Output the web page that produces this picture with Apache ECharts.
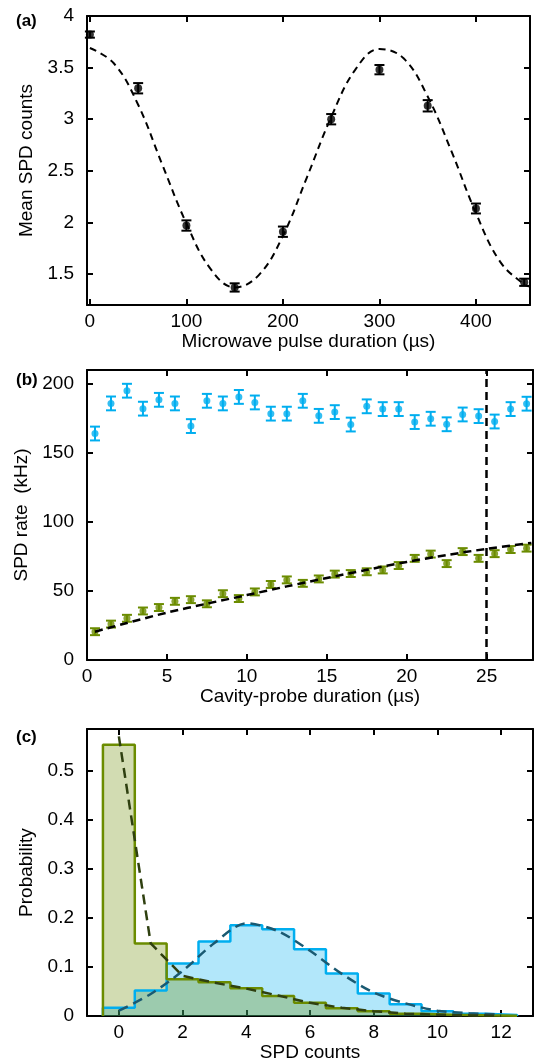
<!DOCTYPE html>
<html>
<head>
<meta charset="utf-8">
<script src="https://cdn.jsdelivr.net/npm/echarts@6/dist/echarts.min.js"></script>
<style>
html, body { margin: 0; padding: 0; background: #fff; }
#chart { width: 536px; height: 1063px; }
</style>
</head>
<body>
<div id="chart"></div>
<script>
// (a) microwave pulse scan
const aPulse = [0, 50, 100, 150, 200, 250, 300, 350, 400, 450];
const aCounts = [3.82, 3.30, 1.97, 1.37, 1.91, 3.00, 3.48, 3.13, 2.135, 1.42];
const aErr = [0.03, 0.05, 0.05, 0.04, 0.05, 0.05, 0.045, 0.055, 0.048, 0.035];
const aFitX = [0, 25, 50, 75, 100, 125, 150, 175, 200, 225, 250, 275, 300, 325, 350, 375, 400, 425, 450, 456];
const aFitY = [3.69, 3.54, 3.14, 2.56, 1.99, 1.55, 1.37, 1.49, 1.87, 2.44, 3.02, 3.48, 3.68, 3.59, 3.22, 2.68, 2.09, 1.62, 1.40, 1.38];
const aTicksX = [0, 100, 200, 300, 400];
const aTicksY = [1.5, 2, 2.5, 3, 3.5, 4];

// (b) cavity-probe duration scan
const bDur = [0.5, 1.5, 2.5, 3.5, 4.5, 5.5, 6.5, 7.5, 8.5, 9.5, 10.5, 11.5, 12.5, 13.5,
              14.5, 15.5, 16.5, 17.5, 18.5, 19.5, 20.5, 21.5, 22.5, 23.5, 24.5, 25.5, 26.5, 27.5];
const bBright = [164, 185.8, 195, 182, 188.4, 185.8, 169.4, 187.7, 185.8, 190.5, 186.5, 178.4, 178.4, 187.7,
                 176.8, 179.5, 170.5, 183.7, 181.7, 181.7, 172.3, 174.7, 170.7, 177.8, 176.6, 172.7, 181.7, 185.6];
const bBrightErr = [5, 5, 5, 5, 5, 5, 5, 5, 5, 5, 5, 5, 5, 5, 5, 5, 5, 5, 5, 5, 5, 5, 5, 5, 5, 5, 5, 5];
const bDark = [20.5, 26, 30.2, 35.5, 38, 42.5, 43.7, 40.7, 48, 44.5, 49.3, 54.7, 58, 55.5,
               58.7, 62.2, 62.6, 63.9, 65.2, 68.4, 73.6, 76.7, 69.8, 78.5, 73.6, 77, 80, 81];
const bDarkErr = [2.5, 2.5, 2.5, 2.5, 2.5, 2.5, 2.5, 2.5, 2.5, 2.5, 2.5, 2.5, 2.5, 2.5,
                  2.5, 2.5, 2.5, 2.5, 2.5, 2.5, 2.5, 2.5, 2.5, 2.5, 2.5, 2.5, 2.5, 2.5];
const bFitX = [0.5, 2.5, 5, 7.5, 10, 12.5, 15, 17.5, 20, 22.5, 25, 27.8];
const bFitY = [20.5, 26.8, 34.3, 40.8, 47, 53.3, 59.4, 65.3, 71, 76, 80.5, 84.8];
const bCut = 25;
const bTicksX = [0, 5, 10, 15, 20, 25];
const bTicksY = [0, 50, 100, 150, 200];

// (c) SPD count histograms
const cBins = [0, 1, 2, 3, 4, 5, 6, 7, 8, 9, 10, 11, 12];
const cDark = [0.553, 0.148, 0.075, 0.069, 0.057, 0.041, 0.027, 0.016, 0.010, 0.005, 0.003, 0.0015, 0.0008];
const cBright = [0.017, 0.052, 0.107, 0.152, 0.185, 0.177, 0.136, 0.087, 0.046, 0.024, 0.010, 0.005, 0.002];
const cDarkFit = [0.57, 0.148, 0.082, 0.068, 0.056, 0.042, 0.027, 0.017, 0.010, 0.005, 0.003, 0.0015, 0.0007];
const cBrightFit = [0.011, 0.045, 0.092, 0.149, 0.189, 0.173, 0.133, 0.086, 0.048, 0.026, 0.011, 0.006, 0.003];
const cTicksX = [0, 2, 4, 6, 8, 10, 12];
const cTicksY = [0, 0.1, 0.2, 0.3, 0.4, 0.5];

const FONT = 'Liberation Sans, Arial, sans-serif';
const BLUE = '#00aeef';
const GREEN = '#6b8c00';

function pairs(xs, ys) {
  return xs.map((x, i) => [x, ys[i]]);
}

// outline of a histogram with unit-width bins centred on the bin values
function steps(bins, vals) {
  const out = [[bins[0] - 0.5, 0]];
  bins.forEach((b, i) => {
    out.push([b - 0.5, vals[i]]);
    out.push([b + 0.5, vals[i]]);
  });
  out.push([bins[bins.length - 1] + 0.5, 0]);
  return out;
}

function errorBars(xs, ys, errs, color, cap, axis) {
  return {
    type: 'custom',
    xAxisIndex: axis, yAxisIndex: axis,
    data: xs.map((x, i) => [x, ys[i] - errs[i], ys[i] + errs[i]]),
    encode: { x: 0, y: [1, 2] },
    z: 3,
    renderItem: function (params, api) {
      const lo = api.coord([api.value(0), api.value(1)]);
      const hi = api.coord([api.value(0), api.value(2)]);
      const style = { stroke: color, lineWidth: 2 };
      return {
        type: 'group',
        children: [
          { type: 'line', shape: { x1: lo[0], y1: lo[1], x2: hi[0], y2: hi[1] }, style: style },
          { type: 'line', shape: { x1: lo[0] - cap, y1: lo[1], x2: lo[0] + cap, y2: lo[1] }, style: style },
          { type: 'line', shape: { x1: hi[0] - cap, y1: hi[1], x2: hi[0] + cap, y2: hi[1] }, style: style }
        ]
      };
    }
  };
}

const frame = { show: true, onZero: false, lineStyle: { color: '#000', width: 2 } };

function axisPair(dim, grid, min, max, ticks, name, nameGap) {
  const main = {
    type: 'value', gridIndex: grid, min: min, max: max,
    position: dim === 'x' ? 'bottom' : 'left',
    name: name, nameLocation: 'middle', nameGap: nameGap,
    nameTextStyle: { fontSize: 19, color: '#000', fontFamily: FONT },
    axisLine: frame,
    axisTick: { show: true, inside: true, length: 6, customValues: ticks, lineStyle: { color: '#000', width: 2 } },
    axisLabel: { customValues: ticks, fontSize: 19, color: '#000', fontFamily: FONT, margin: dim === 'x' ? 7 : 13 },
    splitLine: { show: false }
  };
  const mirror = {
    type: 'value', gridIndex: grid, min: min, max: max,
    position: dim === 'x' ? 'top' : 'right',
    axisLine: frame,
    axisTick: { show: true, inside: true, length: 6, customValues: ticks, lineStyle: { color: '#000', width: 2 } },
    axisLabel: { show: false },
    splitLine: { show: false }
  };
  return [main, mirror];
}

const chart = echarts.init(document.getElementById('chart'));

const option = {
  animation: false,
  backgroundColor: '#fff',
  title: [
    { text: '(a)', left: 11, top: 8, textStyle: { fontSize: 17, fontWeight: 'bold', color: '#000', fontFamily: FONT } },
    { text: '(b)', left: 11, top: 367, textStyle: { fontSize: 17, fontWeight: 'bold', color: '#000', fontFamily: FONT } },
    { text: '(c)', left: 11, top: 724, textStyle: { fontSize: 17, fontWeight: 'bold', color: '#000', fontFamily: FONT } }
  ],
  grid: [
    { left: 87, width: 443, top: 16, height: 289 },
    { left: 87, width: 446, top: 370, height: 290 },
    { left: 87, width: 446, top: 729, height: 290 }
  ],
  xAxis: [].concat(
    axisPair('x', 0, -3, 456, aTicksX, 'Microwave pulse duration (\u00b5s)', 27),
    axisPair('x', 1, 0, 27.9, bTicksX, 'Cavity-probe duration (\u00b5s)', 27),
    axisPair('x', 2, -1, 13, cTicksX, 'SPD counts', 26)
  ),
  yAxis: [].concat(
    axisPair('y', 0, 1.2, 4, aTicksY, 'Mean SPD counts', 48),
    axisPair('y', 1, 0, 210, bTicksY, 'SPD rate  (kHz)', 50),
    axisPair('y', 2, 0, 0.585, cTicksY, 'Probability', 48)
  ),
  series: [
    // (a)
    {
      type: 'line', xAxisIndex: 0, yAxisIndex: 0,
      data: pairs(aFitX, aFitY), smooth: 0.4, showSymbol: false,
      lineStyle: { color: '#000', width: 2, type: [7, 5] }, z: 2
    },
    errorBars(aPulse, aCounts, aErr, '#000', 5, 0),
    {
      type: 'scatter', xAxisIndex: 0, yAxisIndex: 0,
      data: pairs(aPulse, aCounts), symbolSize: 8,
      itemStyle: { color: '#000' }, z: 4
    },
    // (b)
    errorBars(bDur, bBright, bBrightErr, BLUE, 5, 2),
    {
      type: 'scatter', xAxisIndex: 2, yAxisIndex: 2,
      data: pairs(bDur, bBright), symbolSize: 7,
      itemStyle: { color: BLUE }, z: 4
    },
    errorBars(bDur, bDark, bDarkErr, GREEN, 5, 2),
    {
      type: 'scatter', xAxisIndex: 2, yAxisIndex: 2,
      data: pairs(bDur, bDark), symbolSize: 7,
      itemStyle: { color: GREEN }, z: 4
    },
    {
      type: 'line', xAxisIndex: 2, yAxisIndex: 2,
      data: pairs(bFitX, bFitY), smooth: 0.3, showSymbol: false,
      lineStyle: { color: '#000', width: 2.5, type: [8, 5] }, z: 5,
      markLine: {
        silent: true, symbol: 'none', label: { show: false },
        lineStyle: { color: '#000', width: 2.5, type: [8, 5] },
        data: [{ xAxis: bCut }]
      }
    },
    // (c)
    {
      type: 'line', xAxisIndex: 4, yAxisIndex: 4,
      data: steps(cBins, cBright), showSymbol: false,
      lineStyle: { width: 0 }, areaStyle: { color: 'rgba(0,174,239,0.3)', opacity: 1 }, z: 1
    },
    {
      type: 'line', xAxisIndex: 4, yAxisIndex: 4,
      data: steps(cBins, cDark), showSymbol: false,
      lineStyle: { width: 0 }, areaStyle: { color: 'rgba(107,140,0,0.3)', opacity: 1 }, z: 2
    },
    {
      type: 'line', xAxisIndex: 4, yAxisIndex: 4,
      data: steps(cBins, cBright), showSymbol: false,
      lineStyle: { color: BLUE, width: 2.5 }, z: 3
    },
    {
      type: 'line', xAxisIndex: 4, yAxisIndex: 4,
      data: steps(cBins, cDark), showSymbol: false,
      lineStyle: { color: GREEN, width: 2.5 }, z: 4
    },
    {
      type: 'line', xAxisIndex: 4, yAxisIndex: 4,
      data: pairs(cBins, cBrightFit), smooth: 0.3, showSymbol: false,
      lineStyle: { color: '#1a5a72', width: 2.5, type: [10, 6] }, z: 5
    },
    {
      type: 'line', xAxisIndex: 4, yAxisIndex: 4,
      data: pairs(cBins, cDarkFit), showSymbol: false,
      lineStyle: { color: '#2f4010', width: 2.5, type: [10, 6] }, z: 6
    }
  ]
};

chart.setOption(option);
</script>
</body>
</html>
